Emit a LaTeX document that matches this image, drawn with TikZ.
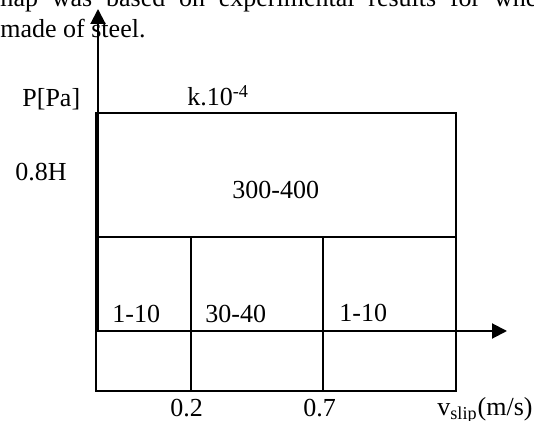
\documentclass[tikz,border=0pt]{standalone}
\usepackage{fontspec}
\setmainfont{Liberation Serif}
\usetikzlibrary{arrows.meta}
\begin{document}
\begin{tikzpicture}[x=0.5pt,y=-0.5pt,
  txt/.style={font=\fontsize{13}{15.6}\selectfont, inner sep=0pt, anchor=base west},
  gridline/.style={line width=1pt},
  axisline/.style={line width=1pt, -{Triangle[length=7.5pt,width=7.5pt]}}]
\useasboundingbox (0,0) rectangle (534,421);
\clip (0,0) rectangle (534,421);
\fill[white] (0,0) rectangle (534,421);
% surrounding text
\node[txt] (line1) at (-7,7) {\makebox[272pt][s]{map was based on experimental results for whe}};
\node[txt] (line2) at (0,38) {made of steel.};
% grid coordinates
\coordinate (TL) at (96,113);
\coordinate (TR) at (456,113);
\coordinate (ML) at (96,237);
\coordinate (MR) at (456,237);
\coordinate (BL) at (96,391);
\coordinate (BR) at (456,391);
\coordinate (v1t) at (191,237);
\coordinate (v1b) at (191,391);
\coordinate (v2t) at (323,237);
\coordinate (v2b) at (323,391);
\coordinate (O) at (98,331);
\coordinate (Ytip) at (98,9);
\coordinate (Xs) at (96,331);
\coordinate (Xtip) at (507,331);
% grid
\draw[gridline] (TL) -- (TR) -- (BR) -- (BL) -- cycle;
\draw[gridline] (ML) -- (MR);
\draw[gridline] (v1t) -- (v1b);
\draw[gridline] (v2t) -- (v2b);
% axes
\draw[axisline] (O) -- (Ytip);
\draw[axisline] (Xs) -- (Xtip);
% labels
\node[txt] (ylab) at (22,107) {P[Pa]};
\node[txt] (klab) at (187,106) {k.10\textsuperscript{-4}};
\node[txt] (hlab) at (15,181) {0.8H};
\node[txt] (c1) at (232,199) {300-400};
\node[txt] (c2) at (112,323) {1-10};
\node[txt] (c3) at (205,323) {30-40};
\node[txt] (c4) at (339,322) {1-10};
\node[txt] (t1) at (170,416) {0.2};
\node[txt] (t2) at (303,416) {0.7};
\node[txt] (xlab) at (437,415) {v\textsubscript{slip}(m/s)};
\end{tikzpicture}
\end{document}
